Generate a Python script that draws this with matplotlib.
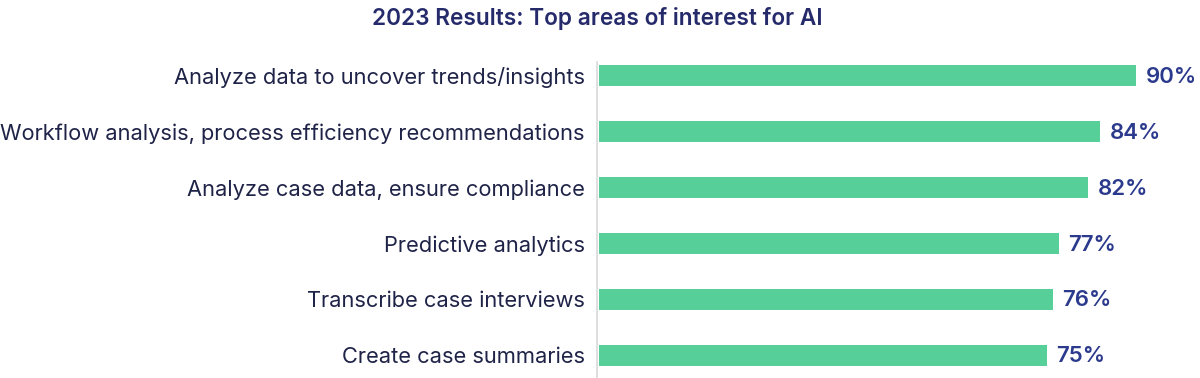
import matplotlib.pyplot as plt

plt.rcParams['font.family'] = ['Inter', 'DejaVu Sans']

categories = ['Analyze data to uncover trends/insights',
              'Workflow analysis, process efficiency recommendations',
              'Analyze case data, ensure compliance',
              'Predictive analytics',
              'Transcribe case interviews',
              'Create case summaries']
values = [90, 84, 82, 77, 76, 75]

bar_color = '#57cf98'
label_color = '#1f2347'
value_color = '#2b3a8c'
title_color = '#252a6b'

fig = plt.figure(figsize=(12, 3.78), dpi=100)
ax = fig.add_axes([597/1200, 0.0, 1 - 597/1200, (378-62)/378])

pos = list(range(len(categories)))
ax.barh(pos, values, height=0.376, color=bar_color, left=0.3)
for p, v in zip(pos, values):
    ax.text(v + 0.3 + 1.6, p + 0.02, f'{v}%', va='center', ha='left',
            fontsize=16, fontweight='semibold', color=value_color)

ax.set_yticks(pos)
ax.set_yticklabels(categories, fontsize=15.75, color=label_color)
ax.tick_params(axis='y', length=0, pad=9)
ax.set_xticks([])
ax.set_xlim(0, 101)
ax.set_ylim(5.41, -0.25)

for s in ['top', 'right', 'bottom']:
    ax.spines[s].set_visible(False)
ax.spines['left'].set_color('#d9d9d9')
ax.spines['left'].set_linewidth(1.2)

fig.text(597/1200, 1 - 18/378, '2023 Results: Top areas of interest for AI',
         ha='center', va='center', fontsize=16.3, fontweight='semibold', color=title_color)

fig.savefig('out.png', dpi=100)
